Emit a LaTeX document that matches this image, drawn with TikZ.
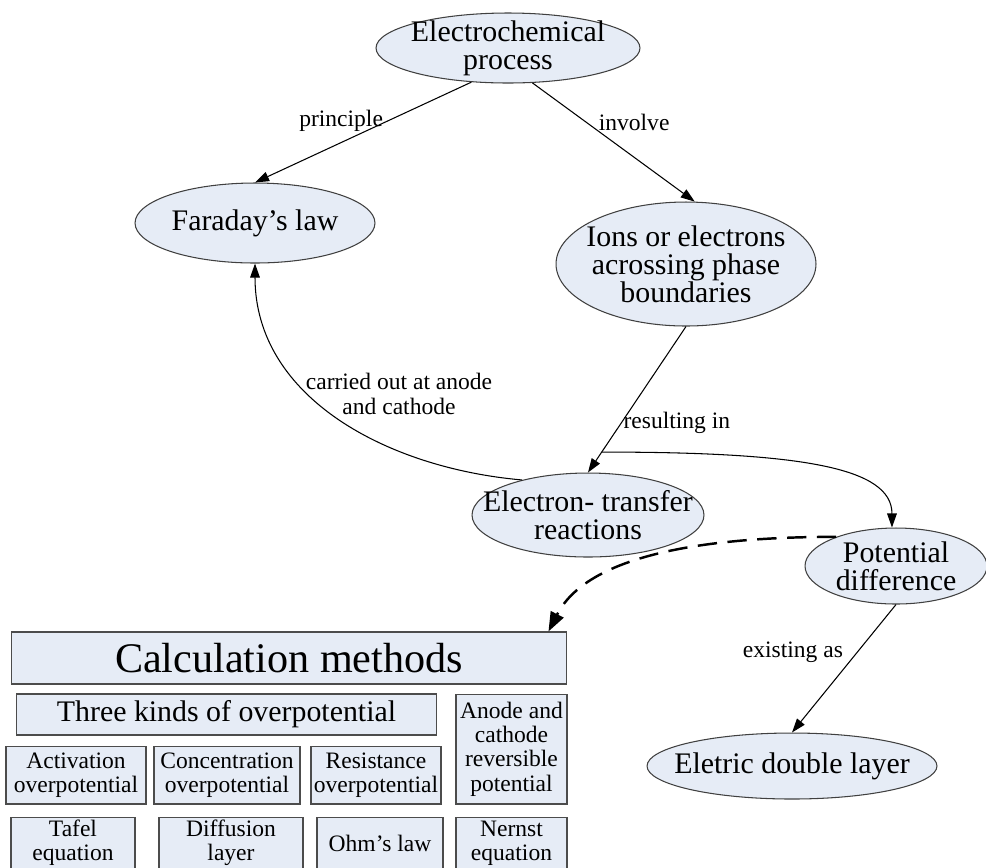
\documentclass[tikz,border=0pt]{standalone}
\usepackage{fontspec}
\setmainfont{Liberation Serif}
\usetikzlibrary{shapes.geometric, arrows.meta, calc}
\definecolor{nodefill}{RGB}{230,236,246}

\begin{document}
\begin{tikzpicture}[x=0.02cm, y=0.02cm,
  bubble/.style={ellipse, draw=black!75, fill=nodefill, inner sep=0pt, line width=0.6pt},
  bubtext/.style={font=\fontsize{17}{16}\selectfont, align=center, inner sep=0pt},
  box/.style={rectangle, draw=black!70, fill=nodefill, inner sep=0pt, line width=0.6pt,
    align=center, font=\fontsize{13.4}{13.8}\selectfont},
  lbl/.style={font=\fontsize{13.4}{14}\selectfont, align=center, inner sep=2pt},
  arr/.style={-{Triangle[length=8pt,width=5.5pt]}, line width=0.6pt},
  dasharr/.style={-{Triangle[length=11pt,width=8pt]}, line width=1.4pt, dash pattern=on 11pt off 6pt}]
\path[use as bounding box, clip] (0,0) rectangle (986,-867);

% ellipses
\node[bubble, minimum width=5.28cm, minimum height=1.4cm,
  label={[bubtext]center:Electrochemical\\process}] (echem) at (508,-48) {};
\node[bubble, minimum width=4.8cm, minimum height=1.6cm,
  label={[bubtext]center:Faraday's law}] (far) at (255,-223) {};
\node[bubble, minimum width=5.2cm, minimum height=2.48cm,
  label={[bubtext]center:Ions or electrons\\acrossing phase\\boundaries}] (ions) at (686,-264) {};
\node[bubble, minimum width=4.64cm, minimum height=1.68cm,
  label={[bubtext]center:Electron- transfer\\reactions}] (etr) at (588,-515) {};
\node[bubble, minimum width=3.64cm, minimum height=1.52cm,
  label={[bubtext]center:Potential\\difference}] (pd) at (896,-566) {};
\node[bubble, minimum width=5.8cm, minimum height=1.32cm,
  label={[bubtext]center:Eletric double layer}] (edl) at (792,-766) {};

% boxes
\node[box, minimum width=11.12cm, minimum height=1.04cm, font=\fontsize{24}{26}\selectfont] (calc) at (289,-658) {Calculation methods};
\node[box, minimum width=8.42cm, minimum height=0.82cm, font=\fontsize{17}{18}\selectfont] (three) at (226.5,-714.5) {Three kinds of overpotential};
\node[box, minimum width=2.22cm, minimum height=2.2cm] (anode) at (511.5,-749) {Anode and\\cathode\\reversible\\potential};
\node[box, minimum width=2.8cm, minimum height=1.16cm] (act) at (76,-775) {Activation\\overpotential};
\node[box, minimum width=2.92cm, minimum height=1.16cm] (conc) at (227,-775) {Concentration\\overpotential};
\node[box, minimum width=2.6cm, minimum height=1.16cm] (res) at (376,-775) {Resistance\\overpotential};
\node[box, minimum width=2.48cm, minimum height=1.04cm] (tafel) at (73,-843) {Tafel\\equation};
\node[box, minimum width=2.88cm, minimum height=1.04cm] (diff) at (231,-843) {Diffusion\\layer};
\node[box, minimum width=2.52cm, minimum height=1.04cm] (ohm) at (380,-843) {Ohm's law};
\node[box, minimum width=2.22cm, minimum height=1.04cm] (nernst) at (511.5,-843) {Nernst\\equation};

% connectors
\draw[arr] (echem.223) -- node[lbl, pos=0.39, anchor=east] (lprin) {principle} (far.north);
\draw[arr] (echem.305) -- node[lbl, pos=0.33, anchor=west, xshift=5pt] (linv) {involve} (ions.82);
\draw[arr] (ions.south) -- coordinate[pos=0.86] (split)
  node[lbl, pos=0.66, anchor=west, inner sep=1pt] (lres) {resulting in} (etr.north);
\draw[arr] (etr.152) to[out=175, in=270] (far.south);
\node[lbl] (lcarr) at (399,-394) {carried out at anode\\and cathode};
\draw[arr] (split) .. controls +(0:200) and +(90:60) .. (pd.96);
\draw[dasharr] (pd.154) .. controls +(180:150) and +(63:80) .. ($(calc.north east)+(-19,0)$);
\draw[arr] (pd.south) -- node[lbl, pos=0.37, anchor=east, xshift=-6pt] (lexist) {existing as} (edl.north);
\end{tikzpicture}
\end{document}
